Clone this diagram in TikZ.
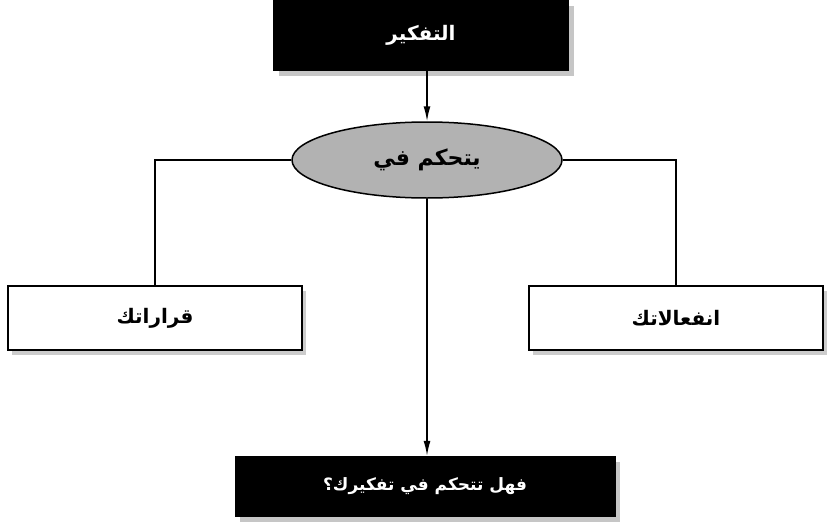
\documentclass[tikz,border=0pt]{standalone}
\usepackage{fontspec}
\newfontfamily\arabicfont[Script=Arabic]{DejaVu Sans}
\TeXXeTstate=1
\usetikzlibrary{
    shapes.geometric,
    arrows.meta,
    positioning,
    shadows
}
\tikzset{
    darkbox/.style={draw=black, fill=black, text=white, minimum width=#1, minimum height=64pt,
        font=\arabicfont\bfseries\fontsize{17}{20}\selectfont,
        drop shadow={shadow xshift=5pt, shadow yshift=-6pt, fill=gray!45, opacity=1}},
    lightbox/.style={draw=black, line width=1.5pt, fill=white, minimum width=294pt, minimum height=64pt,
        font=\arabicfont\bfseries\fontsize{20}{24}\selectfont,
        drop shadow={shadow xshift=4pt, shadow yshift=-5pt, fill=gray!40, opacity=1}},
    oval/.style={ellipse, draw=black, line width=1.5pt, fill=gray!60, minimum width=270pt, minimum height=76pt,
        font=\arabicfont\bfseries\fontsize{22}{26}\selectfont},
    link/.style={draw=black, line width=1.5pt},
    pointer/.style={link, -{Latex[length=15pt, width=7pt]}}
}
\newcommand{\rtl}[1]{\beginR #1\endR}

\begin{document}
\begin{tikzpicture}[x=1pt, y=1pt]
    \useasboundingbox (0,0) rectangle (832,-527);

    % Top: thinking
    \node[darkbox=295pt, minimum height=70pt, font=\arabicfont\bfseries\fontsize{20}{24}\selectfont] (thinking) at (421,-35) {\rtl{التفكير}};

    % Middle ellipse
    \node[oval] (controls) at (427,-160) {\rtl{يتحكم في}};

    % Side boxes
    \node[lightbox] (decisions) at (155,-318) {\rtl{قراراتك}};
    \node[lightbox] (emotions) at (676,-318) {\rtl{انفعالاتك}};

    % Bottom question
    \node[darkbox=380pt, minimum height=60pt] (question) at (425,-486) {\rtl{فهل تتحكم في تفكيرك؟}};

    % Connectors
    \draw[pointer] (thinking.south -| controls.north) -- (controls.north);
    \draw[link] (controls.west) -| (decisions.north);
    \draw[link] (controls.east) -| (emotions.north);
    \draw[pointer] (controls.south) -- (question.north -| controls.south);
\end{tikzpicture}
\end{document}
